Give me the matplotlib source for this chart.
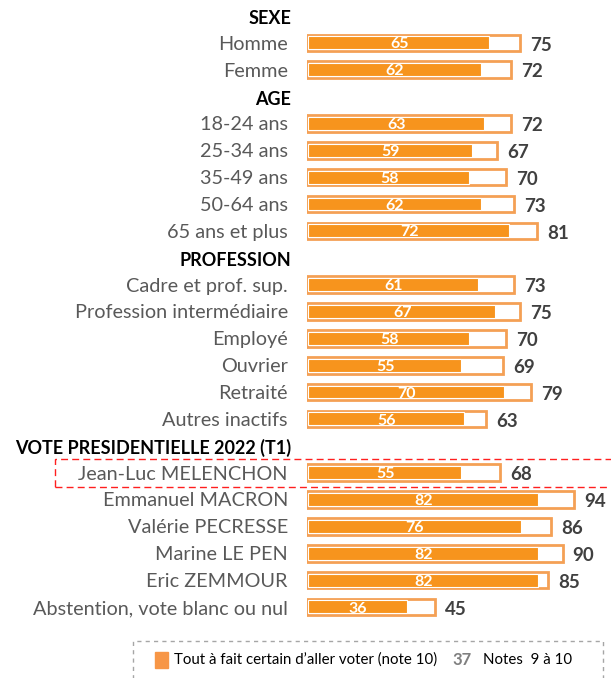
import matplotlib.pyplot as plt
from matplotlib.patches import Rectangle

# libellés, regroupés par catégorie
groups = ['SEXE', 'AGE', 'PROFESSION', 'VOTE PRESIDENTIELLE 2022 (T1)']
labels = [
    ['Homme', 'Femme'],
    ['18-24 ans', '25-34 ans', '35-49 ans', '50-64 ans', '65 ans et plus'],
    ['Cadre et prof. sup.', 'Profession intermédiaire', 'Employé', 'Ouvrier',
     'Retraité', 'Autres inactifs'],
    ['Jean-Luc MELENCHON', 'Emmanuel MACRON', 'Valérie PECRESSE', 'Marine LE PEN',
     'Eric ZEMMOUR', 'Abstention, vote blanc ou nul'],
]
# note 10
note10 = [
    [65, 62],
    [63, 59, 58, 62, 72],
    [61, 67, 58, 55, 70, 56],
    [55, 82, 76, 82, 82, 36],
]
# notes 9 à 10
note9_10 = [
    [75, 72],
    [72, 67, 70, 73, 81],
    [73, 75, 70, 69, 79, 63],
    [68, 94, 86, 90, 85, 45],
]

ORANGE = '#F7941D'
EDGE = '#F4A055'
GRIS = '#595959'
FONCE = '#404040'

plt.rcParams['font.family'] = ['Lato', 'DejaVu Sans']

W, H = 611, 678
fig = plt.figure(figsize=(W / 100, H / 100), dpi=100)

# axes : x en valeur, y en "lignes"
x0_px = 307
px_per_unit = 2.84
row_px = 26.86
top_px = 16
ax_bottom_px = 625
ax = fig.add_axes([x0_px / W, (H - ax_bottom_px) / H, (W - x0_px) / W, ax_bottom_px / H])
ax.set_xlim(0, (W - x0_px) / px_per_unit)
ax.set_ylim((ax_bottom_px - top_px) / row_px, -top_px / row_px)
ax.axis('off')

# positions en pixels -> coordonnées figure pour les libellés
def fig_y(row, dy=0):
    return 1 - (top_px + row * row_px + dy) / H

label_x = 288 / W
row = 0
mel_row = None
for g, labs, v10, v910 in zip(groups, labels, note10, note9_10):
    fig.text(label_x + 3 / W, fig_y(row, 2.5), g, ha='right', va='center',
             fontsize=13, fontweight='bold', color='black')
    row += 1
    for lab, a, b in zip(labs, v10, v910):
        fig.text(label_x, fig_y(row, 1.5), lab, ha='right', va='center',
                 fontsize=14.3, color=GRIS)
        # barre extérieure (notes 9 à 10)
        ax.barh(row, b, height=0.62, color='white', edgecolor=EDGE, linewidth=2, zorder=1)
        # barre intérieure (note 10)
        ax.barh(row, a - 1.3, height=0.48, left=0.5, color=ORANGE, edgecolor='white',
                linewidth=0.8, zorder=2)
        ax.text(a / 2, row + 0.06, str(a), ha='center', va='center',
                color='white', fontsize=11.5, fontweight='bold', zorder=3)
        ax.text(b + 3.5, row + 0.08, str(b), ha='left', va='center',
                color=FONCE, fontsize=13.5, fontweight='bold')
        if lab == 'Jean-Luc MELENCHON':
            mel_row = row
        row += 1

# cadre rouge en pointillés autour de Mélenchon
y_mid = fig_y(mel_row)
fig.patches.append(Rectangle((55 / W, y_mid - 14 / H), (W - 50) / W, 28 / H,
                             transform=fig.transFigure, fill=False,
                             edgecolor='#FF1F1F', linestyle=(0, (5, 3)), linewidth=1))

# légende
fig.patches.append(Rectangle((133 / W, -10 / H), (603 - 133) / W, (678 - 641 + 10) / H,
                             transform=fig.transFigure, fill=False,
                             edgecolor='#A6A6A6', linestyle=(0, (3, 3)), linewidth=1))
ly = 1 - 660 / H
fig.patches.append(Rectangle((155 / W, ly - 8 / H), 13 / W, 16 / H,
                             transform=fig.transFigure, color='#F79646'))
fig.text(174 / W, ly, "Tout à fait certain d’aller voter (note 10)", ha='left', va='center',
         fontsize=10.8, color='black')
fig.text(452 / W, ly, '37', ha='left', va='center', fontsize=12, fontweight='bold',
         color='#7F7F7F')
fig.text(483 / W, ly, 'Notes  9 à 10', ha='left', va='center', fontsize=10.8, color='black')

plt.savefig('out.png', dpi=100)
plt.close()
